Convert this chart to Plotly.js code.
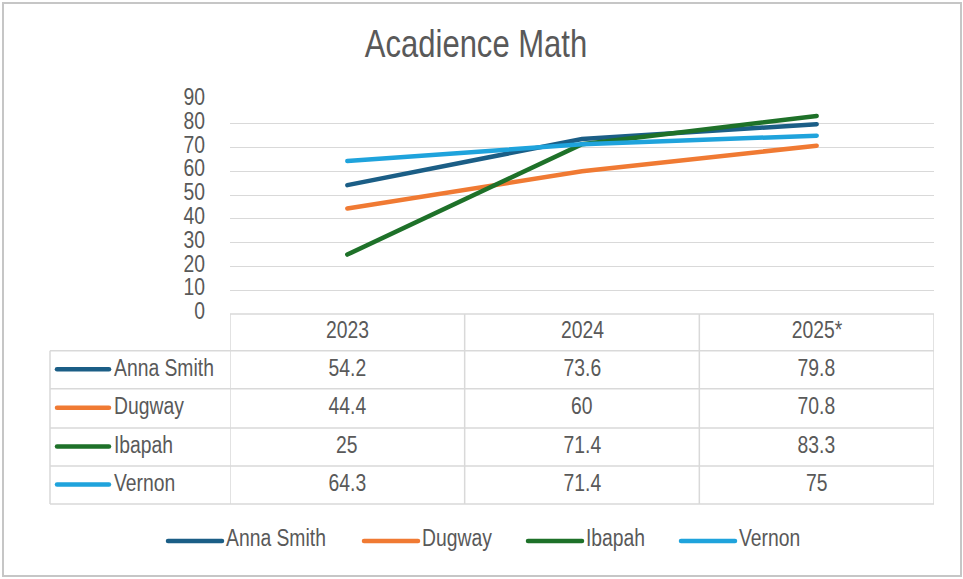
<!DOCTYPE html>
<html><head><meta charset="utf-8">
<script src="https://cdn.plot.ly/plotly-3.0.1.min.js"></script>
<style>html,body{margin:0;padding:0;background:#fff}#chart{width:963px;height:579px}</style>
</head><body><div id="chart"></div>
<script>
// ---- data ----
const years = ['2023', '2024', '2025*'];
const seriesNames = ['Anna Smith', 'Dugway', 'Ibapah', 'Vernon'];
const annaSmith = [54.2, 73.6, 79.8];
const dugway = [44.4, 60, 70.8];
const ibapah = [25, 71.4, 83.3];
const vernon = [64.3, 71.4, 75];
const seriesValues = [annaSmith, dugway, ibapah, vernon];
const yTicks = [0, 10, 20, 30, 40, 50, 60, 70, 80, 90];

// ---- style ----
const colors = ['#1B5E86', '#F07A33', '#1E7129', '#1FA3DC'];
const FONT = '"Liberation Sans", Arial, sans-serif';
const textColor = '#595959';
const gridColor = '#d9d9d9';
const NARROW = 0.84;        // horizontal condensing of text (Arial Narrow look)
const TITLE_NARROW = 0.795;

const W = 963, H = 579, L = 230, R = 29, T = 100, B = 265;
const pw = W - L - R, ph = H - T - B;
const px = x => (x - L) / pw;       // pixel x -> paper
const py = y => (H - B - y) / ph;   // pixel y -> paper

const traces = seriesNames.map((n, i) => ({
  type: 'scatter', mode: 'lines', name: n, x: years, y: seriesValues[i],
  line: {color: colors[i], width: 4.5}, showlegend: false
}));

const shapes = [];
const annotations = [];
const tline = {color: gridColor, width: 1.5};

// table geometry (pixels)
const headerTop = H - B;
const rowBounds = [350.7, 388.7, 428, 466, 504];
const tableLeft = 50;

shapes.push({type: 'line', xref: 'paper', yref: 'paper', x0: 0, x1: 1, y0: py(headerTop), y1: py(headerTop), line: tline});
rowBounds.forEach(yb => shapes.push({type: 'line', xref: 'paper', yref: 'paper',
  x0: px(tableLeft), x1: 1, y0: py(yb), y1: py(yb), line: tline}));
shapes.push({type: 'line', xref: 'paper', yref: 'paper', x0: px(tableLeft), x1: px(tableLeft),
  y0: py(rowBounds[0]), y1: py(rowBounds[rowBounds.length - 1]), line: tline});
for (let k = 0; k <= years.length; k++) {
  shapes.push({type: 'line', xref: 'x', yref: 'paper', x0: k - 0.5, x1: k - 0.5,
    y0: py(headerTop), y1: py(rowBounds[rowBounds.length - 1]), line: tline});
}

const tfont = {family: FONT, size: 23, color: textColor};
// header labels (category index positions on the x axis)
years.forEach((yr, j) => annotations.push({xref: 'x', yref: 'paper', x: j, y: py((headerTop + rowBounds[0]) / 2 - 2),
  text: yr, showarrow: false, xanchor: 'center', yanchor: 'middle', font: tfont}));
// rows
seriesNames.forEach((n, i) => {
  const yc = (rowBounds[i] + rowBounds[i + 1]) / 2 - 2;
  shapes.push({type: 'line', xref: 'paper', yref: 'paper', x0: px(57), x1: px(109), y0: py(yc + 1.5), y1: py(yc + 1.5),
    line: {color: colors[i], width: 4.5}});
  annotations.push({xref: 'paper', yref: 'paper', x: px(112), y: py(yc), text: n, showarrow: false,
    xanchor: 'left', yanchor: 'middle', font: tfont});
  seriesValues[i].forEach((v, j) => annotations.push({xref: 'x', yref: 'paper', x: j, y: py(yc),
    text: String(v), showarrow: false, xanchor: 'center', yanchor: 'middle', font: tfont}));
});

// bottom legend
const legendStarts = [168, 364, 528, 681];
const legY = 541;
seriesNames.forEach((n, i) => {
  shapes.push({type: 'line', xref: 'paper', yref: 'paper', x0: px(legendStarts[i]), x1: px(legendStarts[i] + 54),
    y0: py(legY), y1: py(legY), line: {color: colors[i], width: 4.5}});
  annotations.push({xref: 'paper', yref: 'paper', x: px(legendStarts[i] + 56), y: py(legY - 3), text: n,
    showarrow: false, xanchor: 'left', yanchor: 'middle', font: tfont});
});

// outer border
shapes.push({type: 'rect', xref: 'paper', yref: 'paper', x0: px(3), x1: px(961), y0: py(576), y1: py(3),
  line: {color: '#c6c6c6', width: 2}, fillcolor: 'rgba(0,0,0,0)', layer: 'below'});

const layout = {
  width: W, height: H,
  margin: {l: L, r: R, t: T, b: B},
  paper_bgcolor: '#ffffff', plot_bgcolor: '#ffffff',
  font: {family: FONT, color: textColor},
  title: {text: 'Acadience Math', font: {family: FONT, size: 39, color: textColor},
    xref: 'container', x: 476 / W, xanchor: 'center', yref: 'container', y: 1 - 43 / H, yanchor: 'middle'},
  xaxis: {type: 'category', categoryorder: 'array', categoryarray: years, range: [-0.5, years.length - 0.5],
    showticklabels: false, showgrid: false, zeroline: false, showline: false, fixedrange: true},
  yaxis: {range: [0, 90], tickvals: yTicks, ticktext: yTicks.map(String), showgrid: true, gridcolor: gridColor, gridwidth: 1,
    zeroline: false, showline: false, ticks: '', tickfont: {family: FONT, size: 23, color: textColor},
    ticklabelstandoff: 24, ticklabelshift: -3, fixedrange: true},
  shapes: shapes,
  annotations: annotations,
  showlegend: false
};

Plotly.newPlot('chart', traces, layout, {displayModeBar: false, staticPlot: true}).then(gd => {
  // condense text horizontally to mimic the narrow typeface of the original
  const info = new Map();
  gd.querySelectorAll('text').forEach(t => {
    const len = t.getComputedTextLength();
    if (len > 0) info.set(t, len);
  });
  // left-anchored annotations: keep their left edge in place
  gd.querySelectorAll('g.annotation').forEach(g => {
    const idx = +g.getAttribute('data-index');
    const ann = layout.annotations[idx];
    const t = g.querySelector('text');
    if (!ann || !t || ann.xanchor !== 'left' || !info.has(t)) return;
    const len = info.get(t);
    const x = parseFloat(t.getAttribute('x')) - len / 2;
    t.setAttribute('text-anchor', 'start');
    t.style.textAnchor = 'start';
    t.setAttribute('x', x);
    t.querySelectorAll('tspan[x]').forEach(s => s.setAttribute('x', x));
  });
  info.forEach((len, t) => {
    const f = t.classList.contains('gtitle') ? TITLE_NARROW : NARROW;
    t.setAttribute('textLength', (len * f).toFixed(2));
    t.setAttribute('lengthAdjust', 'spacingAndGlyphs');
  });
  // rounded ends on the key lines, like the original
  gd.querySelectorAll('.shapelayer path').forEach(p => {
    if (parseFloat(p.style.strokeWidth) > 3) p.style.strokeLinecap = 'round';
  });
  gd.querySelectorAll('.scatterlayer .js-line').forEach(p => { p.style.strokeLinecap = 'round'; });
});
</script>
</body></html>
